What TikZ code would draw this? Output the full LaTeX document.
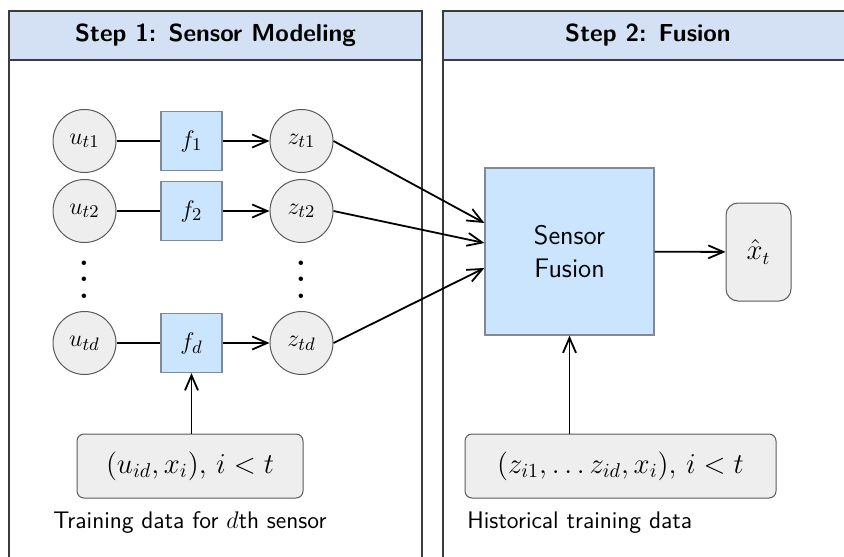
\documentclass[tikz,border=0pt]{standalone}
\usetikzlibrary{arrows.meta}
\definecolor{hdrblue}{HTML}{D4E1F4}
\definecolor{boxblue}{HTML}{CCE5FF}
\definecolor{nodegray}{HTML}{EEEEEE}
\definecolor{edgegray}{HTML}{5A5A5A}
\definecolor{boxedge}{HTML}{808A94}
\definecolor{panelgray}{HTML}{3C3C3C}
\newcommand\mathsz{\fontsize{13}{15.6}\selectfont}
\newcommand\datasz{\fontsize{13.7}{16.5}\selectfont}
\newcommand\capsz{\fontsize{12}{14.4}\selectfont}
\begin{document}
\begin{tikzpicture}[x=0.5pt,y=-0.5pt,
  panel/.style={draw=panelgray, line width=1pt},
  paneltitle/.style={font=\fontsize{12.3}{14.8}\selectfont\sffamily\bfseries},
  var/.style={circle, draw=edgegray, fill=nodegray, line width=0.5pt,
    minimum size=31.5pt, inner sep=0pt, font=\mathsz},
  fbox/.style={rectangle, draw=boxedge, fill=boxblue, line width=0.6pt,
    minimum width=30.5pt, minimum height=29.5pt, inner sep=0pt, font=\mathsz},
  databox/.style={rectangle, rounded corners=3.5pt, draw=edgegray, fill=nodegray,
    line width=0.5pt, inner sep=0pt, font=\datasz},
  caption/.style={font=\capsz\sffamily, inner sep=0pt},
  arr/.style={-{Straight Barb[length=7.5pt,width=6.5pt]}, line width=0.9pt},
  link/.style={line width=0.9pt},
]
\useasboundingbox (0,0) rectangle (844,556);
\clip (0,0) rectangle (844,556);

% panel frames with shaded title bands
\fill[hdrblue] (9,11) rectangle (422,60);
\fill[hdrblue] (443,11) rectangle (853,60);
\draw[panel] (9,600) -- (9,11) -- (422,11) -- (422,600);
\draw[panel] (9,60) -- (422,60);
\draw[panel] (443,600) -- (443,11) -- (853,11) -- (853,600);
\draw[panel] (443,60) -- (853,60);
\node[paneltitle] (title1) at (215.5,35.5) {Step 1: Sensor Modeling};
\node[paneltitle] (title2) at (648,35.5) {Step 2: Fusion};

% sensor inputs, per-sensor models and outputs
\node[var] (u1) at (84.5,141) {$u_{t1}$};
\node[var] (u2) at (84.5,211) {$u_{t2}$};
\node[var] (ud) at (84.5,343) {$u_{td}$};
\node[fbox] (f1) at (191.5,141) {$f_1$};
\node[fbox] (f2) at (191.5,211) {$f_2$};
\node[fbox] (fd) at (191.5,343) {$f_d$};
\node[var] (z1) at (301.5,141) {$z_{t1}$};
\node[var] (z2) at (301.5,211) {$z_{t2}$};
\node[var] (zd) at (301.5,343) {$z_{td}$};
\node[inner sep=0pt] (udots) at (84.5,267) {\scalebox{2.1}{$\vdots$}};
\node[inner sep=0pt] (zdots) at (301.5,267) {\scalebox{2.1}{$\vdots$}};

% fusion stage
\node[rectangle, draw=boxedge, fill=boxblue, line width=0.6pt,
  minimum width=84.5pt, minimum height=83.5pt, align=center,
  font=\fontsize{13.4}{16.5}\selectfont\sffamily] (sf) at (569.5,251.5) {Sensor\\Fusion};
\node[databox, rounded corners=6pt, minimum width=32.5pt, minimum height=49pt,
  font=\fontsize{13.5}{16}\selectfont] (xhat) at (758.5,252) {$\hat{x}_t$};

% training data
\node[databox, minimum width=113pt, minimum height=32pt] (ldata) at (190,466)
  {$(u_{id},x_i),\, i<t$};
\node[databox, minimum width=155.5pt, minimum height=32pt] (rdata) at (620.5,466)
  {$(z_{i1},\ldots z_{id},x_i),\, i<t$};
\node[caption] (lcap) at (190,523) {Training data for $d$th sensor};
\node[caption, anchor=west] (rcap) at (467,523) {Historical training data};

% connectors
\draw[link] (u1) -- (f1);
\draw[link] (u2) -- (f2);
\draw[link] (ud) -- (fd);
\draw[arr] (f1) -- (z1);
\draw[arr] (f2) -- (z2);
\draw[arr] (fd) -- (zd);
\draw[arr] (z1.east) -- ([yshift=14.25pt]sf.west);
\draw[arr] (z2.east) -- ([yshift=4.25pt]sf.west);
\draw[arr] (zd.east) -- ([yshift=-8.25pt]sf.west);
\draw[arr] (sf) -- (xhat);
\draw[arr] (ldata.north -| fd.south) -- (fd.south);
\draw[arr] (rdata.north -| sf.south) -- (sf.south);
\end{tikzpicture}
\end{document}
